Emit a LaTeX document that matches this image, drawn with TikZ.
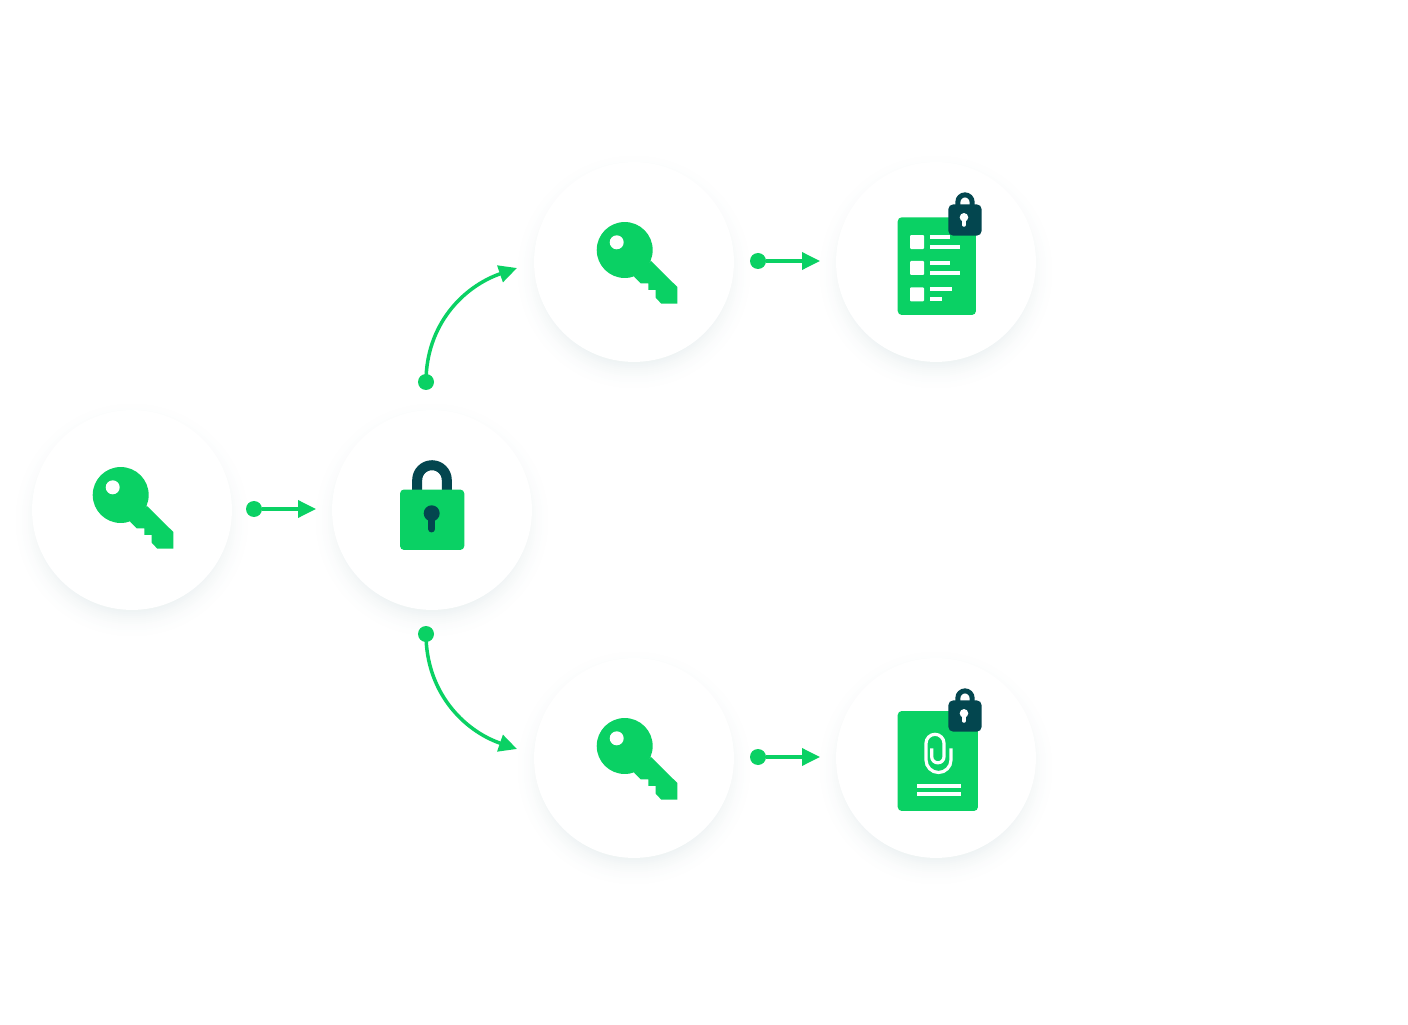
\documentclass[tikz,border=0pt]{standalone}
\usepackage{tikz}
\usetikzlibrary{
	arrows.meta,
	positioning
}
\definecolor{leaf}{HTML}{0AD164}
\definecolor{ink}{HTML}{03464F}
\tikzset{
	px/.style={x=0.01cm, y=-0.01cm},
	bubble/.style={circle, minimum size=2cm, inner sep=0pt, outer sep=0pt},
	dotnode/.style={circle, fill=leaf, minimum size=0.16cm, inner sep=0pt, outer sep=0pt},
	linkedge/.style={leaf, line width=0.035cm, -{Triangle[length=0.18cm, width=0.17cm]}},
	pics/halo/.style={code={
		\foreach \r in {122,120,...,90} {
			\pgfmathsetmacro{\p}{7*((122-\r)/32)^2}
			\fill[ink!\p!white] (0,10) circle[radius=\r];
		}
		\fill[white] (0,0) circle[radius=100];
	}},
	pics/keyicon/.style={code={
		\fill[leaf] (-11.3,-15) circle[radius=28];
		\fill[leaf] (15,-4) -- (41.3,22) -- (41.3,38.7) -- (25.3,38.7) -- (19.7,32.7)
			-- (19.7,25) -- (12.3,25) -- (12.3,18.3) -- (4.7,18.3) -- (-2,11.7) -- cycle;
		\fill[white] (-19.3,-22.7) circle[radius=7];
	}},
	pics/bigpadlock/.style={code={
		\draw[ink, line width=0.1cm] (-14.8,-15) -- (-14.8,-30) arc[start angle=180, end angle=360, radius=14.8] -- (14.8,-15);
		\fill[leaf, rounded corners=0.04cm] (-32,-20.5) rectangle (32.3,40);
		\fill[ink] (-0.3,3.3) circle[radius=8];
		\draw[ink, line width=0.07cm, line cap=round] (-0.3,5) -- (-0.3,19);
	}},
	pics/smallpadlock/.style={code={
		\draw[ink, line width=0.05cm] (-7.15,-10) -- (-7.15,-18) arc[start angle=180, end angle=360, radius=7.15] -- (7.15,-10);
		\fill[ink, rounded corners=0.05cm] (-16.7,-15.7) rectangle (16.7,15.7);
		\fill[white] (-1,-2.7) circle[radius=4.3];
		\draw[white, line width=0.035cm, line cap=round] (-1,-1) -- (-1,5);
	}},
	pics/listsheet/.style={code={
		\fill[leaf, rounded corners=0.04cm] (-38.3,-44.7) rectangle (40,53);
		\foreach \y in {-27,-1,25.3} {
			\fill[white, rounded corners=0.01cm] (-26,\y) rectangle (-12,\y+14);
		}
		\foreach \e/\y in {14/-27, 24/-16.7, 14/-0.7, 24/9.3, 16/25.3, 6/35.3} {
			\fill[white] (-6,\y) rectangle (\e,\y+4);
		}
	}},
	pics/clipsheet/.style={code={
		\fill[leaf, rounded corners=0.04cm] (-38.3,-47) rectangle (42,53);
		\draw[white, line width=0.032cm] (15,-9.7) -- (15,2)
			arc[start angle=0, end angle=180, radius=12.5] -- (-10,-14.7)
			arc[start angle=180, end angle=360, radius=9] -- (8,-1.3)
			arc[start angle=0, end angle=180, radius=6.15] -- (-4.3,-9.7);
		\fill[white] (-19.3,25.7) rectangle (24.7,29.7);
		\fill[white] (-19.3,34) rectangle (24.7,38);
	}}
}

\begin{document}
\begin{tikzpicture}
	\useasboundingbox (0,0) rectangle (14.08,10.24);

	\node[bubble] (key) at (1.32,5.14) {};
	\node[bubble, right = 1 of key] (lock) {};
	\node[bubble, above = 0.48 of lock, xshift=2.02cm] (keytop) {};
	\node[bubble, right = 1.02 of keytop] (list) {};
	\node[bubble, below = 0.48 of lock, xshift=2.02cm] (keybot) {};
	\node[bubble, right = 1.02 of keybot] (clip) {};

	\foreach \n in {key, lock, keytop, list, keybot, clip} {
		\pic[px] at (\n) {halo};
	}

	\pic[px] at (key) {keyicon};
	\pic[px] at (lock) {bigpadlock};
	\pic[px, shift={(2,3)}] at (keytop) {keyicon};
	\pic[px] at (list) {listsheet};
	\pic[px, shift={(29,-42)}] at (list) {smallpadlock};
	\pic[px, shift={(2,3)}] at (keybot) {keyicon};
	\pic[px] at (clip) {clipsheet};
	\pic[px, shift={(29,-42)}] at (clip) {smallpadlock};

	\node[dotnode, right = 0.14 of key, yshift=0.01cm] (keydot) {};
	\node[dotnode, right = 0.16 of keytop, yshift=0.01cm] (keytopdot) {};
	\node[dotnode, right = 0.16 of keybot, yshift=0.01cm] (keybotdot) {};
	\node[dotnode, above = 0.2 of lock, xshift=-0.06cm] (updot) {};
	\node[dotnode, below = 0.16 of lock, xshift=-0.06cm] (downdot) {};

	\node[coordinate, left = 0.16 of lock, yshift=0.01cm] (keytip) {};
	\node[coordinate, left = 0.16 of list, yshift=0.01cm] (listtip) {};
	\node[coordinate, left = 0.16 of clip, yshift=0.01cm] (cliptip) {};
	\node[coordinate, left = 0.17 of keytop, yshift=-0.06cm] (uptip) {};
	\node[coordinate, left = 0.17 of keybot, yshift=0.09cm] (downtip) {};

	\draw[linkedge] (keydot) -- (keytip);
	\draw[linkedge] (keytopdot) -- (listtip);
	\draw[linkedge] (keybotdot) -- (cliptip);
	\draw[linkedge] (updot.center) to[out=90, in=199] (uptip);
	\draw[linkedge] (downdot.center) to[out=-90, in=161] (downtip);
\end{tikzpicture}
\end{document}
